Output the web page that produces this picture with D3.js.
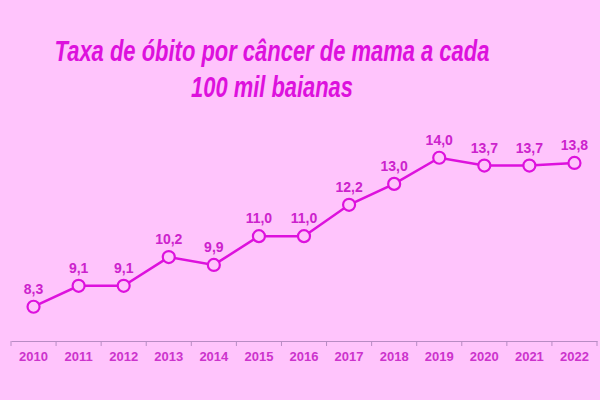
<!DOCTYPE html>
<html><head><meta charset="utf-8">
<script src="https://cdn.jsdelivr.net/npm/d3@7"></script>
<style>html,body{margin:0;padding:0;background:#ffc4fc;}svg{display:block;}</style>
</head><body>
<svg id="c" width="600" height="400"></svg>
<script>
const years = ["2010","2011","2012","2013","2014","2015","2016","2017","2018","2019","2020","2021","2022"];
const rates = [8.3, 9.1, 9.1, 10.2, 9.9, 11.0, 11.0, 12.2, 13.0, 14.0, 13.7, 13.7, 13.8];
const titleLines = ["Taxa de óbito por câncer de mama a cada", "100 mil baianas"];

const svg = d3.select("#c");
svg.append("rect").attr("width",600).attr("height",400).attr("fill","#ffc4fc");

const x = d3.scaleBand().domain(years).range([11,597]);
const y = d3.scaleLinear().domain([5,15]).range([393,131.6]);

// title (horizontally condensed via scale so that bbox stays consistent)
const targetW = [435, 162];
titleLines.forEach((t,i)=>{
  const g = svg.append("g");
  const tx = g.append("text")
    .attr("x",0).attr("y",0)
    .attr("text-anchor","middle")
    .attr("font-family","Liberation Sans, Arial, sans-serif")
    .attr("font-style","italic").attr("font-weight","bold")
    .attr("font-size",30).attr("fill","#dd11dd")
    .text(t);
  const w = tx.node().getComputedTextLength();
  const s = targetW[i]/w;
  g.attr("transform",`translate(272,${61+i*36}) scale(${s},1)`);
});

// axis
const ax = svg.append("g").attr("transform","translate(0,341)")
  .call(d3.axisBottom(x).tickSize(0).tickPadding(11));
ax.select(".domain").attr("stroke","#b88cc4").attr("stroke-width",1.2);
ax.selectAll(".tick text").attr("font-family","Liberation Sans, Arial, sans-serif")
  .attr("font-weight","bold").attr("font-size",13).attr("fill","#cc33cc");
// tick marks at band boundaries
const bounds = years.map(d=>x(d)).concat([x(years[years.length-1])+x.bandwidth()]);
svg.append("g").selectAll("line").data(bounds).join("line")
  .attr("x1",d=>d).attr("x2",d=>d).attr("y1",341).attr("y2",346)
  .attr("stroke","#b88cc4").attr("stroke-width",1);

const cx = d=>x(d)+x.bandwidth()/2;
const line = d3.line().x((d,i)=>cx(years[i])).y(d=>y(d));
svg.append("path").datum(rates).attr("d",line)
  .attr("fill","none").attr("stroke","#dd11dd").attr("stroke-width",2.5);

svg.append("g").selectAll("circle").data(rates).join("circle")
  .attr("cx",(d,i)=>cx(years[i])).attr("cy",d=>y(d)).attr("r",6)
  .attr("fill","#ffc4fc").attr("stroke","#dd11dd").attr("stroke-width",2.2);

svg.append("g").selectAll("text").data(rates).join("text")
  .attr("x",(d,i)=>cx(years[i])).attr("y",d=>y(d)-13)
  .attr("text-anchor","middle")
  .attr("font-family","Liberation Sans, Arial, sans-serif")
  .attr("font-weight","bold").attr("font-size",14).attr("fill","#cc22cc")
  .text(d=>d.toFixed(1).replace(".",","));
</script>
</body></html>
